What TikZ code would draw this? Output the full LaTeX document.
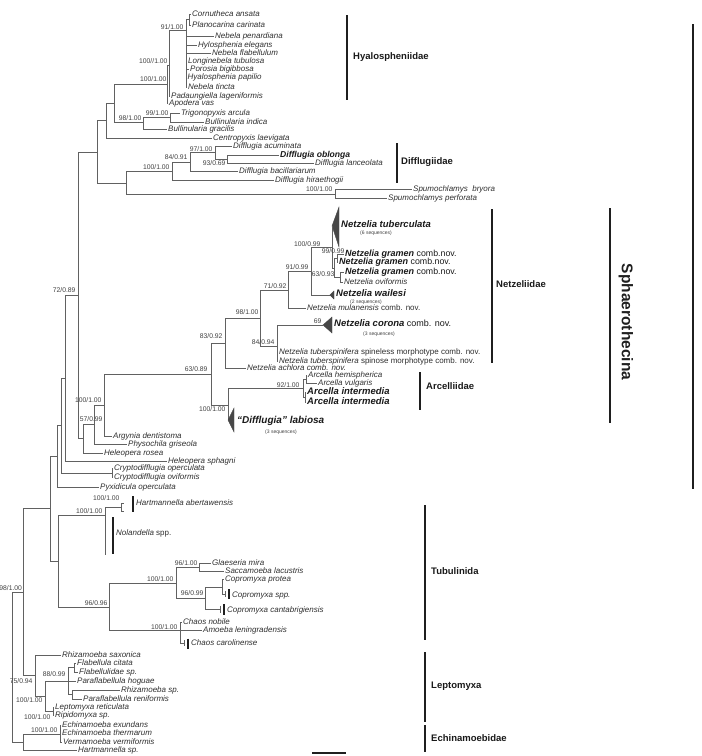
\documentclass[tikz,border=0pt]{standalone}
\usepackage{fontspec}
\setmainfont{Liberation Sans}
\newcommand\tleaf[6][leaf]{\node[#1] (#2) at (#5,#4) {#6}; \draw[br] (#3,#4) -- (#2.west);}
\newcommand\svl[4]{\node[supp] (#1) at (#2,#3) {#4};}
\begin{document}
\begin{tikzpicture}[x=1pt,y=-1pt,
 br/.style={draw=black!62, line width=0.65pt},
 leaf/.style={anchor=west, inner sep=1pt, text=black!82, font=\fontsize{8}{9}\selectfont\itshape, text height=5.4pt, text depth=1.4pt},
 bleaf/.style={leaf, font=\fontsize{9.5}{10}\selectfont\bfseries\itshape, text=black!90, text height=6.6pt, text depth=1.6pt},
 gleaf/.style={leaf, inner ysep=0pt, font=\fontsize{9}{10}\selectfont\bfseries\itshape, text=black!90, text height=5.4pt, text depth=1.1pt},
 supp/.style={anchor=east, inner sep=0.3pt, text=black!75, font=\fontsize{6.8}{7}\selectfont, text height=4.8pt, text depth=0pt},
 seqs/.style={anchor=west, inner sep=0pt, text=black!75, font=\fontsize{5}{5.5}\selectfont},
 gbar/.style={draw=black!88, line width=1.8pt},
 glab/.style={anchor=west, inner sep=0pt, font=\fontsize{9.5}{11}\selectfont\bfseries, text=black!90},
 clade/.style={fill=black!72, draw=black!72, line width=0.4pt},
]
\useasboundingbox (0,0) rectangle (702,756);

% ---------------- Hyalospheniidae ----------------
\draw[br] (189,14)--(189,25) (186,19.5)--(189,19.5) (186,19.5)--(186,87)
          (169,30)--(186,30) (169,30)--(169,96) (167,65)--(169,65) (167,65)--(167,103)
          (114,84)--(167,84);
\tleaf{cor}{189}{14}{191}{Cornutheca ansata}
\tleaf{pla}{189}{25}{191}{Planocarina carinata}
\tleaf{npe}{186}{36}{214}{Nebela penardiana}
\tleaf{hel}{186}{45}{197}{Hylosphenia elegans}
\tleaf{nfl}{186}{53}{211}{Nebela flabellulum}
\tleaf{lon}{186}{61}{187}{Longinebela tubulosa}
\tleaf{por}{186}{69}{189}{Porosia bigibbosa}
\tleaf{hpa}{186}{77}{186.5}{Hyalosphenia papilio}
\tleaf{nti}{186}{87}{187}{Nebela tincta}
\tleaf{pad}{169}{96}{170}{Padaungiella lageniformis}
\tleaf{apo}{167}{103}{168}{Apodera vas}
\svl{s91}{184}{27}{91/1.00}
\svl{s100a}{168}{61}{100//1.00}
\svl{s100b}{167}{79}{100/1.00}

% Trigonopyxis / Bullinularia / Centropyxis
\draw[br] (114,84)--(114,122) (114,122)--(143,122) (143,117.5)--(143,129)
          (143,117.5)--(170,117.5) (170,113)--(170,122)
          (106,103)--(114,103) (106,103)--(106,138)
          (97,120.5)--(106,120.5) (97,120.5)--(97,183);
\tleaf{tri}{170}{113}{180}{Trigonopyxis arcula}
\tleaf{bin}{170}{122}{204}{Bullinularia indica}
\tleaf{bgr}{143}{129}{167}{Bullinularia gracilis}
\tleaf{cen}{106}{138}{212}{Centropyxis laevigata}
\svl{s99}{169}{113}{99/1.00}
\svl{s98}{142}{118}{98/1.00}

% Difflugiidae + Spumochlamys
\draw[br] (227,155)--(227,163) (215,159)--(227,159) (215,146)--(215,159)
          (190,152.5)--(215,152.5) (190,152.5)--(190,171)
          (172,162)--(190,162) (172,162)--(172,180)
          (126,171)--(172,171) (126,171)--(126,194) (97,183)--(126,183)
          (126,194)--(335,194) (335,189)--(335,198);
\tleaf{dac}{215}{146}{232}{Difflugia acuminata}
\tleaf[bleaf,font=\fontsize{8.6}{9}\selectfont\bfseries\itshape]{dob}{227}{155}{279}{Difflugia oblonga}
\tleaf{dla}{227}{163}{314}{Difflugia lanceolata}
\tleaf{dba}{190}{171}{238}{Difflugia bacillariarum}
\tleaf{dhi}{172}{180}{274}{Difflugia hiraethogii}
\tleaf{sbr}{335}{189}{412}{Spumochlamys\ \ bryora}
\tleaf{spe}{335}{198}{387}{Spumochlamys perforata}
\svl{s97}{213}{149}{97/1.00}
\svl{s93}{226}{163.5}{93/0.69}
\svl{s84}{188}{157.5}{84/0.91}
\svl{s100c}{170}{167}{100/1.00}
\svl{s100d}{333}{189.5}{100/1.00}

% spine of Sphaerothecina
\draw[br] (78,152)--(97,152) (78,152)--(78,438) (65,295)--(78,295);
\svl{s72}{76}{290}{72/0.89}

% ---------------- Netzeliidae ----------------
\draw[clade] (332,226)--(339,207)--(339,247)--cycle;
\node[bleaf] (ntu) at (340,225) {Netzelia tuberculata};
\node[seqs] (ntus) at (360,233) {(6 sequences)};
\draw[br] (332,226)--(332,268) (332,268)--(334,268) (334,258.5)--(334,277)
          (334,258.5)--(337,258.5) (337,254.5)--(337,262.5) (334,277)--(340,277) (340,272)--(340,282)
          (311,247)--(332,247) (311,247)--(311,295) (311,295)--(330,295)
          (288,271)--(311,271) (288,271)--(288,308)
          (260,290)--(288,290) (260,290)--(260,346) (260,346)--(277,346) (277,325)--(277,361)
          (277,325)--(323,325)
          (225,318)--(260,318) (225,318)--(225,368)
          (211,343)--(225,343) (211,343)--(211,405) (104,374)--(211,374);
\tleaf[gleaf]{gr1}{337}{254.5}{344}{Netzelia gramen{\mdseries\upshape\fontsize{8.8}{10}\selectfont{} comb.nov.}}
\tleaf[gleaf]{gr2}{337}{262.5}{338}{Netzelia gramen{\mdseries\upshape\fontsize{8.8}{10}\selectfont{} comb.nov.}}
\tleaf[gleaf]{gr3}{340}{272}{344}{Netzelia gramen{\mdseries\upshape\fontsize{8.8}{10}\selectfont{} comb.nov.}}
\tleaf{ovi}{340}{282}{343}{Netzelia oviformis}
\draw[clade] (330,295)--(334,291)--(334,299)--cycle;
\node[bleaf] (nwa) at (335,294) {Netzelia wailesi};
\node[seqs] (nwas) at (350,302) {(2 sequences)};
\tleaf{mul}{288}{308.5}{306}{Netzelia mulanensis{\upshape{} comb. nov.}}
\draw[clade] (323,325)--(332,317)--(332,333)--cycle;
\node[bleaf] (nco) at (333,324) {Netzelia corona{\mdseries\upshape\fontsize{9}{10}\selectfont{} comb. nov.}};
\node[seqs] (ncos) at (363,334) {(3 sequences)};
\tleaf{ts1}{277}{352}{278}{Netzelia tuberspinifera{\upshape{} spineless morphotype comb. nov.}}
\tleaf{ts2}{277}{361}{278}{Netzelia tuberspinifera{\upshape{} spinose morphotype comb. nov.}}
\tleaf{ach}{225}{368}{246}{Netzelia achlora comb. nov.}
\svl{s100e}{321}{244}{100/0.99}
\svl{s99b}{345}{251.5}{99/0.99}
\svl{s63b}{335}{274}{63/0.93}
\svl{s91b}{309}{267}{91/0.99}
\svl{s71}{287}{286}{71/0.92}
\svl{s98b}{259}{312}{98/1.00}
\svl{s84b}{275}{342}{84/0.94}
\svl{s69}{322}{321}{69}
\svl{s83}{223}{336}{83/0.92}
\svl{s63}{208}{369}{63/0.89}

% ---------------- Arcelliidae + labiosa ----------------
\draw[br] (211,405)--(228,405) (228,388)--(228,420) (228,388)--(303,388) (303,379)--(303,397)
          (303,379)--(306,379) (306,375)--(306,383) (303,397)--(305,397) (305,392)--(305,402);
\tleaf{ahe}{306}{375}{307}{Arcella hemispherica}
\tleaf{avu}{306}{383}{317}{Arcella vulgaris}
\tleaf[bleaf]{ai1}{305}{392}{306}{Arcella intermedia}
\tleaf[bleaf]{ai2}{305}{402}{306}{Arcella intermedia}
\draw[clade] (228,420)--(234,408)--(234,432)--cycle;
\node[bleaf, font=\fontsize{10}{11}\selectfont\bfseries\itshape] (dlab) at (236,421) {“Difflugia” labiosa};
\node[seqs] (dlabs) at (265,432) {(3 sequences)};
\svl{s92}{300}{385}{92/1.00}
\svl{s100f}{226}{409}{100/1.00}

% ---------------- Argynia ... Pyxidicula ----------------
\draw[br] (104,374)--(104,436) (94,405)--(104,405) (94,405)--(94,444)
          (83,424.5)--(94,424.5) (83,424.5)--(83,453) (78,438)--(83,438)
          (65,295)--(65,461.5) (61,378.5)--(65,378.5) (61,378.5)--(61,473)
          (61,473)--(112,473) (112,468.5)--(112,477.5)
          (57,425.5)--(61,425.5) (57,425.5)--(57,487)
          (50,456)--(57,456) (50,456)--(50,561);
\tleaf{arg}{104}{436}{112}{Argynia dentistoma}
\tleaf{phy}{94}{444}{127}{Physochila griseola}
\tleaf{hro}{83}{453}{103}{Heleopera rosea}
\tleaf{hsp}{65}{461.5}{167}{Heleopera sphagni}
\tleaf{cop}{112}{468.5}{113}{Cryptodifflugia operculata}
\tleaf{cov}{112}{477.5}{113}{Cryptodifflugia oviformis}
\tleaf{pyx}{57}{487}{99}{Pyxidicula operculata}
\svl{s100g}{102}{400}{100/1.00}
\svl{s57}{103}{419}{57/0.99}

% ---------------- root part ----------------
\draw[br] (23,508.5)--(50,508.5) (23,508.5)--(23,675) (12,592)--(23,592) (12,592)--(12,742)
          (12,742)--(23,742);
\svl{s98c}{22.5}{588}{98/1.00}

% Hartmannella abertawensis / Nolandella
\draw[br] (50,561)--(58,561) (58,515)--(58,607) (58,515)--(105,515) (105,507)--(105,555)
          (105,507)--(121,507) (121,503)--(121,511) (121,503)--(124,503) (121,511)--(124,511);
\draw[gbar] (133,496)--(133,512);
\draw[gbar] (113,517)--(113,554);
\node[leaf] (hab) at (135,503) {Hartmannella abertawensis};
\node[leaf] (nol) at (115,533) {Nolandella{\upshape{} spp.}};
\svl{s100h}{120}{498}{100/1.00}
\svl{s100i}{103}{511}{100/1.00}

% Tubulinida
\draw[br] (58,607)--(109,607) (109,583)--(109,630) (109,583)--(176,583) (176,567)--(176,598)
          (176,567)--(199,567) (199,563)--(199,571)
          (176,598)--(205,598) (205,587)--(205,609) (205,587)--(222,587) (222,579)--(222,594)
          (222,594)--(225,594) (225,591)--(225,597)
          (205,609)--(220,609) (220,605.5)--(220,612.5)
          (109,630)--(180,630) (180,622)--(180,643) (180,643)--(184,643) (184,640)--(184,646);
\draw[gbar] (229,589)--(229,599);
\draw[gbar] (224,604)--(224,615);
\draw[gbar] (188,638.5)--(188,648.5);
\tleaf{gla}{199}{563}{211}{Glaeseria mira}
\tleaf{sac}{199}{571}{224}{Saccamoeba lacustris}
\tleaf{cpr}{222}{579}{224}{Copromyxa protea}
\node[leaf] (csp) at (231,595) {Copromyxa spp.};
\node[leaf] (cca) at (226,610) {Copromyxa cantabrigiensis};
\tleaf{chn}{180}{622}{182}{Chaos nobile}
\tleaf{ale}{180}{630}{202}{Amoeba leningradensis}
\node[leaf] (cca2) at (190,643) {Chaos carolinense};
\svl{s96}{108}{603}{96/0.96}
\svl{s100j}{174}{579}{100/1.00}
\svl{s96b}{198}{563}{96/1.00}
\svl{s96c}{204}{593}{96/0.99}
\svl{s100k}{178}{627}{100/1.00}

% Leptomyxa
\draw[br] (23,675)--(35,675) (35,655)--(35,696) (35,696)--(45,696) (45,681)--(45,711)
          (45,681)--(68,681) (68,667.5)--(68,694.5) (68,667.5)--(74,667.5) (74,663)--(74,672)
          (68,694.5)--(72,694.5) (72,690)--(72,699)
          (45,711)--(53,711) (53,707)--(53,715);
\tleaf{rsa}{35}{655}{61}{Rhizamoeba saxonica}
\tleaf{fci}{74}{663}{76}{Flabellula citata}
\tleaf{fsp}{74}{672}{78}{Flabellulidae sp.}
\tleaf{pho}{68}{681}{76}{Paraflabellula hoguae}
\tleaf{rsp}{72}{690}{120}{Rhizamoeba sp.}
\tleaf{pre}{72}{699}{82}{Paraflabellula reniformis}
\tleaf{lre}{53}{707}{54}{Leptomyxa reticulata}
\tleaf{rip}{53}{715}{54}{Ripidomyxa sp.}
\svl{s75}{33}{681}{75/0.94}
\svl{s100l}{43}{700}{100/1.00}
\svl{s88}{66}{674}{88/0.99}
\svl{s100m}{51}{717}{100/1.00}

% Echinamoebidae
\draw[br] (23,734)--(60,734) (23,734)--(23,750) (60,725)--(60,742);
\tleaf{eex}{60}{725}{61}{Echinamoeba exundans}
\tleaf{eth}{60}{733}{61}{Echinamoeba thermarum}
\tleaf{vve}{60}{742}{62}{Vermamoeba vermiformis}
\tleaf{hsp2}{23}{750}{77}{Hartmannella sp.}
\svl{s100n}{58}{730}{100/1.00}

% ---------------- group bars ----------------
\draw[gbar] (347,15)--(347,100);
\node[glab] (ghy) at (353,57) {Hyalospheniidae};
\draw[gbar] (397,143)--(397,183);
\node[glab] (gdi) at (401,162) {Difflugiidae};
\draw[gbar] (492,209)--(492,363);
\node[glab] (gne) at (496,284) {Netzeliidae};
\draw[gbar] (420,372)--(420,410);
\node[glab] (gar) at (426,386) {Arcelliidae};
\draw[gbar] (610,208)--(610,423);
\node[rotate=-90, inner sep=0pt, font=\fontsize{15.5}{17}\selectfont\bfseries, text=black!88] (gsp) at (626,322) {Sphaerothecina};
\draw[gbar] (693,24)--(693,489);
\draw[gbar] (425,505)--(425,640);
\node[glab] (gtu) at (431,571) {Tubulinida};
\draw[gbar] (425,652)--(425,722);
\node[glab] (gle) at (431,686) {Leptomyxa};
\draw[gbar] (425,725)--(425,752);
\node[glab] (gec) at (431,738) {Echinamoebidae};
% scale bar
\draw[gbar] (312,753)--(346,753);
\end{tikzpicture}
\end{document}
